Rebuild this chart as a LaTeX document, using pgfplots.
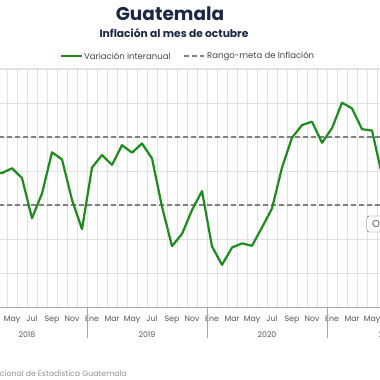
\documentclass[border=0pt]{standalone}
\usepackage{fontspec}
\setmainfont{Poppins}
\usepackage{pgfplots}
\pgfplotsset{compat=1.18}
\definecolor{ggreen}{RGB}{28,140,28}
\definecolor{navy}{RGB}{27,40,68}
\definecolor{dgray}{RGB}{128,128,128}
\definecolor{tgray}{RGB}{85,85,85}
\definecolor{lgrid}{RGB}{225,225,225}
\begin{document}
\begin{tikzpicture}[x=1pt,y=1pt]
\useasboundingbox (0,0) rectangle (380,380);
\clip (0,0) rectangle (380,380);
\fill[white] (0,0) rectangle (380,380);
\begin{axis}[
  at={(-33pt,73pt)}, anchor=south west,
  scale only axis, width=480pt, height=238pt,
  xmin=-0.5, xmax=47.5, ymin=0, ymax=7,
  clip=false,
  axis x line*=bottom, axis y line*=left,
  x axis line style={-, draw=gray!70, line width=0.8pt},
  y axis line style={draw=none},
  ytick={0,1,...,7}, yticklabels={}, ytick style={draw=none},
  ymajorgrids, major y grid style={lgrid, line width=0.8pt},
  xtick={0,2,...,46},
  xticklabels={Ene,Mar,May,Jul,Sep,Nov,Ene,Mar,May,Jul,Sep,Nov,Ene,Mar,May,Jul,Sep,Nov,Ene,Mar,May,Jul,Sep,Nov},
  major tick length=0pt,
  xticklabel style={font=\fontsize{7.8}{9}\selectfont, text=tgray, anchor=base, yshift=-14pt},
  minor xtick={-0.5,0.5,...,47.5},
  xminorgrids, minor x grid style={lgrid, line width=0.8pt},
  minor tick length=0pt,
  extra x ticks={-0.5,11.5,23.5,35.5,47.5},
  extra x tick labels={},
  extra x tick style={major tick length=31pt, tick align=outside, grid=none,
     tick style={draw=gray!70, line width=0.8pt}},
]
\addplot[dgray, line width=1.8pt, dash pattern=on 5pt off 3pt] coordinates {(-0.5,3) (47.5,3)};
\addplot[dgray, line width=1.8pt, dash pattern=on 5pt off 3pt] coordinates {(-0.5,5) (47.5,5)};
\addplot[ggreen, line width=2.2pt, mark=none, line join=round] coordinates {
(2,3.95) (3,3.94) (4,4.08) (5,3.79) (6,2.61) (7,3.34) (8,4.55) (9,4.34) (10,3.15) (11,2.29)
(12,4.10) (13,4.47) (14,4.18) (15,4.76) (16,4.54) (17,4.81) (18,4.37) (19,2.95) (20,1.79) (21,2.15) (22,2.85) (23,3.41)
(24,1.78) (25,1.24) (26,1.75) (27,1.87) (28,1.80) (29,2.34) (30,2.90) (31,4.10) (32,4.98) (33,5.35) (34,5.45) (35,4.83)
(36,5.26) (37,6.01) (38,5.84) (39,5.23) (40,5.19) (41,3.88)
};
\node[font=\fontsize{7.8}{9}\selectfont, text=tgray, anchor=base] at (axis cs:5.5,0) [yshift=-30pt] {2018};
\node[font=\fontsize{7.8}{9}\selectfont, text=tgray, anchor=base] at (axis cs:17.5,0) [yshift=-30pt] {2019};
\node[font=\fontsize{7.8}{9}\selectfont, text=tgray, anchor=base] at (axis cs:29.5,0) [yshift=-30pt] {2020};
\node[font=\fontsize{7.8}{9}\selectfont, text=tgray, anchor=base] at (axis cs:41.5,0) [yshift=-30pt] {2021};
\end{axis}
% title
\node[font=\fontsize{18.5}{21}\bfseries\selectfont, text=navy] at (170,366) {Guatemala};
\node[font=\fontsize{10.7}{12}\bfseries\selectfont, text=navy] at (174,347) {Inflación al mes de octubre};
% legend
\draw[ggreen, line width=2pt] (61,324) -- (82,324);
\node[font=\fontsize{8.5}{10}\selectfont, text=tgray!80!black, anchor=west, inner sep=1pt] at (83,324) {Variación interanual};
\draw[dgray, line width=1.8pt, dash pattern=on 5pt off 3pt] (184,324) -- (204,324);
\node[font=\fontsize{8.5}{10}\selectfont, text=tgray!80!black, anchor=west, inner sep=1pt] at (206,324) {Rango-meta de Inflación};
\draw[lgrid, line width=0.8pt] (0,312) -- (380,312);
% annotation box
\node[draw=gray!80!black, rounded corners=2.5pt, fill=white, anchor=west, inner xsep=5.5pt, inner ysep=3pt, minimum height=16pt,
      font=\fontsize{10}{11}\selectfont, text=tgray] at (366.5,156) {Octubre 2021};
% source
\node[font=\fontsize{7.8}{9}\selectfont, text=gray!85, anchor=east, inner sep=0pt] at (127,7) {Fuente: Instituto Nacional de Estadística Guatemala};
\end{tikzpicture}
\end{document}
